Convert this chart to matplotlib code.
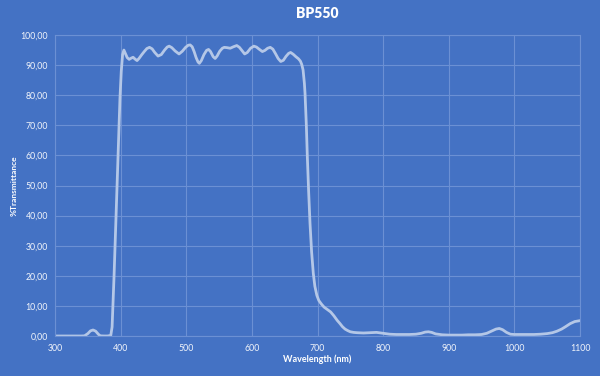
import matplotlib
matplotlib.use("Agg")
import matplotlib.pyplot as plt
from matplotlib.ticker import FuncFormatter

# wavelength (nm) and transmittance (%)
wavelength = [
    300, 310, 320, 330, 340, 345, 350, 354, 358, 362, 366, 369, 375, 380, 385,
    387, 390, 394, 397, 399, 401, 403, 405, 407, 410, 413, 416, 419, 422, 425,
    428, 432, 436, 440, 444, 448, 452, 457, 462, 467, 471, 474, 478, 483, 489,
    494, 499, 503, 506, 509, 512, 515, 518, 520, 523, 527, 531, 534, 537, 541,
    544, 547, 551, 555, 558, 562, 567, 572, 577, 581, 585, 589, 593, 598, 603,
    607, 611, 616, 620, 624, 628, 632, 636, 640, 644, 648, 652, 656, 659, 663,
    667, 671, 674, 676, 678, 680, 681, 683, 684.5, 686.5, 688.6, 691, 693.6,
    696, 699, 702, 706, 710, 715, 720, 725, 730, 734, 738, 742, 746, 750, 755,
    760, 770, 780, 790, 800, 810, 820, 830, 840, 850, 858, 864, 869, 874, 880,
    890, 900, 910, 920, 930, 940, 950, 958, 965, 972, 977, 982, 988, 994, 1000,
    1010, 1020, 1030, 1040, 1050, 1058, 1065, 1072, 1078, 1085, 1092, 1100,
]
transmittance = [
    0, 0, 0, 0, 0, 0.05, 0.8, 1.7, 2.0, 1.6, 0.6, 0.05, 0, 0, 0.2,
    3, 20, 46, 66, 79, 88, 93.5, 95, 94, 92.5, 91.9, 92.3, 92.6, 92.0, 91.5,
    92.2, 93.4, 94.5, 95.5, 95.9, 95.4, 94.2, 93.0, 93.5, 95, 96, 96.3, 95.8, 94.7, 93.7,
    94.6, 95.9, 96.6, 96.7, 96.1, 94.5, 92.5, 91, 90.6, 91.5, 93.5, 94.9, 95.2, 94.5, 92.8,
    92.2, 93, 94.6, 95.6, 95.9, 95.8, 95.6, 96.1, 96.5, 95.9, 94.8, 93.7, 94.2, 95.6, 96.3,
    96, 95.3, 94.5, 94.9, 95.6, 95.9, 95.3, 93.8, 92.2, 91.2, 91.6, 92.9, 93.9, 94.2, 93.6,
    92.8, 92.1, 91.3, 90.2, 88.4, 84, 80.6, 70, 59.6, 48, 37.4, 28, 20.8,
    16.5, 13.5, 11.8, 10.6, 9.6, 8.8, 8.0, 6.7, 5.2, 4.2, 3.1, 2.3, 1.8, 1.4, 1.2,
    1.1, 1.0, 1.1, 1.2, 0.9, 0.6, 0.5, 0.5, 0.5, 0.6, 0.9, 1.3, 1.4, 1.2, 0.7,
    0.4, 0.3, 0.3, 0.3, 0.4, 0.4, 0.5, 0.9, 1.6, 2.3, 2.5, 2.1, 1.2, 0.6, 0.5,
    0.5, 0.5, 0.5, 0.6, 0.8, 1.1, 1.6, 2.3, 3.1, 4.1, 4.8, 5.1,
]
x_ticks = [300, 400, 500, 600, 700, 800, 900, 1000, 1100]
y_ticks = [0, 10, 20, 30, 40, 50, 60, 70, 80, 90, 100]

bg = "#4472C4"
line_col = "#B4C7E7"
grid_col = "#6B90D4"
text_col = "#F2F5FB"

plt.rcParams["font.family"] = ["Lato", "DejaVu Sans"]

fig = plt.figure(figsize=(6, 3.76), dpi=100, facecolor=bg)
ax = fig.add_axes([55 / 600, 1 - 336 / 376, 525 / 600, 301 / 376])
ax.set_facecolor(bg)

ax.plot(wavelength, transmittance, color=line_col, lw=2, solid_capstyle="round")

ax.set_xlim(300, 1100)
ax.set_ylim(0, 100)
ax.set_xticks(x_ticks)
ax.set_yticks(y_ticks)
ax.yaxis.set_major_formatter(FuncFormatter(lambda v, p: f"{v:.2f}".replace(".", ",")))
ax.grid(True, color=grid_col, lw=0.8)
ax.set_axisbelow(True)
for s in ax.spines.values():
    s.set_color(grid_col)
    s.set_linewidth(0.8)
ax.tick_params(length=0, colors=text_col, labelsize=6.3, pad=6)
ax.tick_params(axis="y", pad=5)

ax.set_title("BP550", color="white", fontsize=10, fontweight="heavy", pad=12)
ax.set_xlabel("Wavelength (nm)", color="white", fontsize=6.5, fontweight="bold", labelpad=1)
ax.set_ylabel("%Transmittance", color="white", fontsize=6, fontweight="bold")
ax.yaxis.set_label_coords(-0.072, 0.5)

fig.savefig("out.png", dpi=100, facecolor=bg)
